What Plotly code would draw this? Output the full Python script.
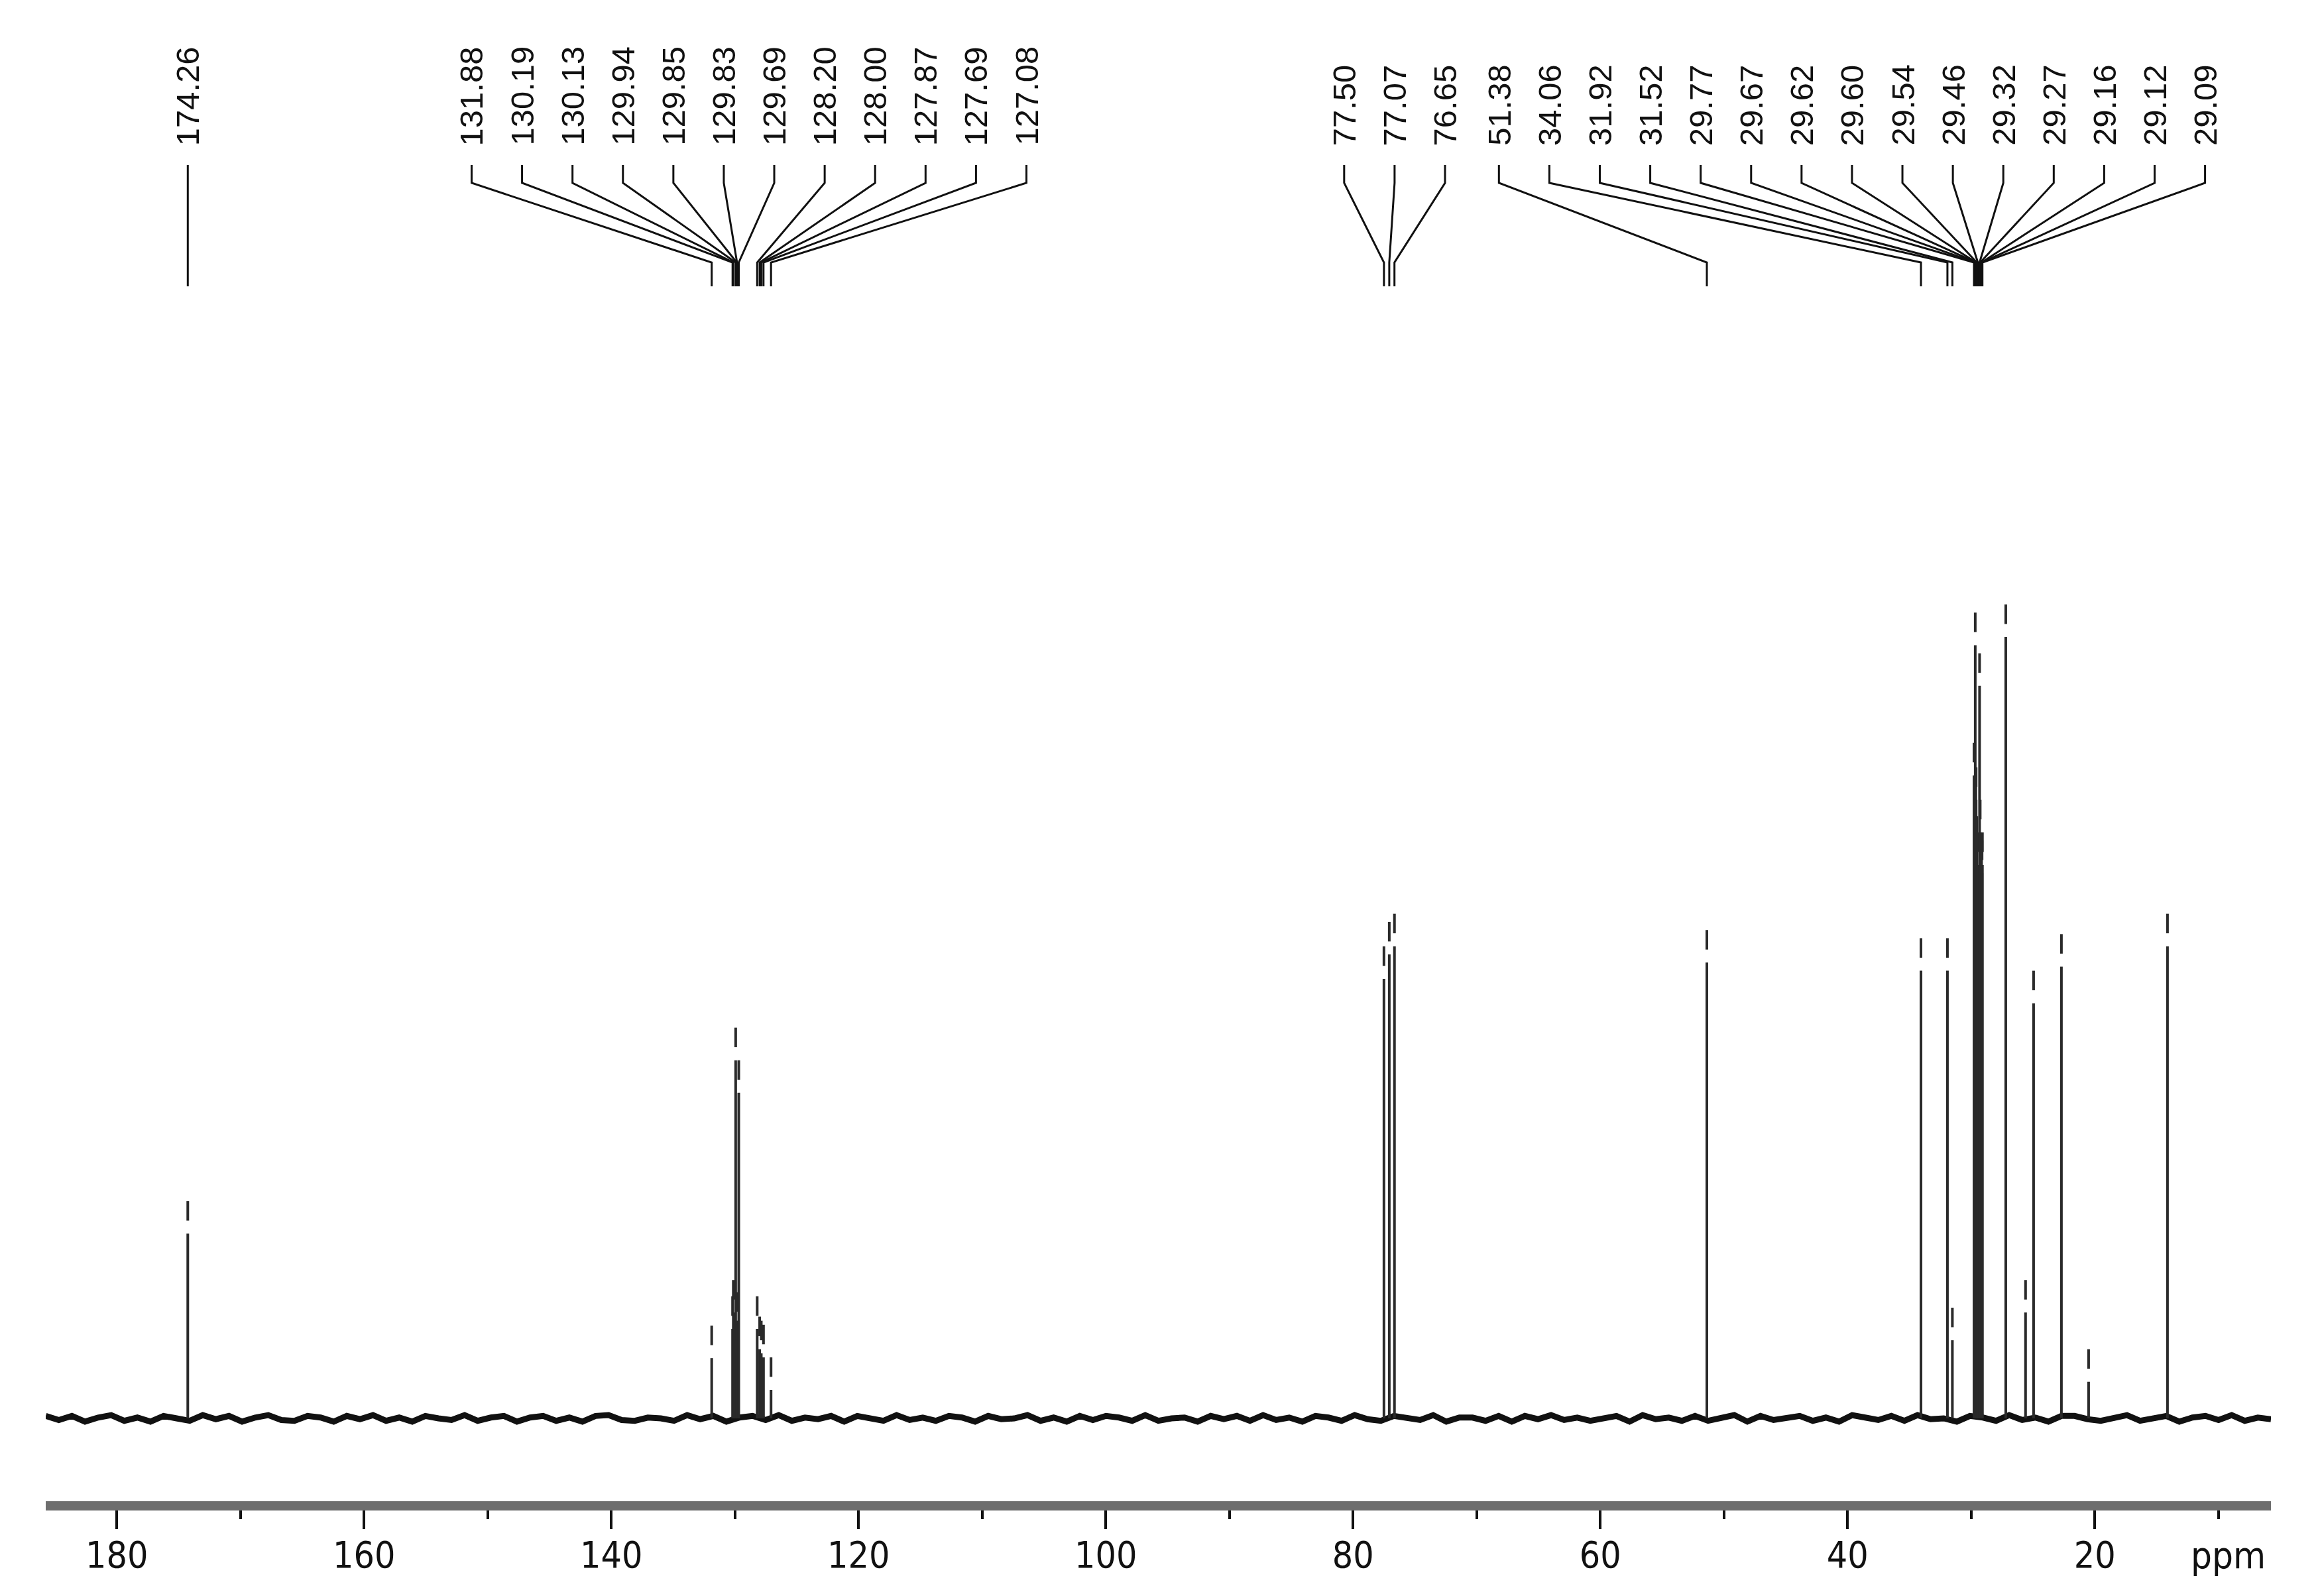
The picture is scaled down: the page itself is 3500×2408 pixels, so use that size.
import numpy as np
import plotly.graph_objects as go

# 13C NMR peak list: shift (ppm) and line height (% of tallest line)
labelled_groups = [
    [174.26],
    [131.88, 130.19, 130.13, 129.94, 129.85, 129.83, 129.69, 128.20, 128.00, 127.87, 127.69, 127.08],
    [77.50, 77.07, 76.65],
    [51.38, 34.06, 31.92, 31.52, 29.77, 29.67, 29.62, 29.60, 29.54, 29.46, 29.32, 29.27, 29.16, 29.12, 29.09],
]
labelled_heights = [
    [26.7],
    [11.4, 15.0, 17.0, 48.0, 12.0, 15.5, 44.0, 15.0, 12.5, 12.0, 11.5, 7.5],
    [58.0, 61.0, 62.0],
    [60.0, 59.0, 59.0, 13.6, 83.0, 99.0, 78.0, 80.0, 74.0, 72.0, 94.0, 76.0, 70.0, 71.0, 72.0],
]
# lines that carry no label in the picture
other_ppm = [27.20, 25.60, 24.95, 22.70, 20.50, 14.12]
other_heights = [100.0, 17.0, 55.0, 59.5, 8.5, 62.0]

# baseline noise (% units), read roughly along the trace from 186 to 6 ppm
noise = [0.3, -0.2, 0.3, -0.4, 0.1, 0.4, -0.3, 0.1, -0.4, 0.3, 0.0, -0.3, 0.4, -0.1, 0.3,
         -0.4, 0.1, 0.4, -0.2, -0.3, 0.3, 0.1, -0.4, 0.3, -0.1, 0.4, -0.3, 0.1, -0.4, 0.3,
         0.0, -0.2, 0.4, -0.3, 0.1, 0.3, -0.4, 0.1, 0.3, -0.3, 0.1, -0.4, 0.3, 0.4, -0.2,
         -0.3, 0.1, 0.0, -0.3, 0.4, -0.1, 0.3, -0.4, 0.1, 0.3, -0.2, 0.4, -0.3, 0.1, -0.1,
         0.3, -0.4, 0.3, 0.0, -0.3, 0.4, -0.2, 0.1, -0.3, 0.3, 0.1, -0.4, 0.3, -0.1, 0.0,
         0.4, -0.3, 0.1, -0.4, 0.3, -0.2, 0.3, 0.1, -0.3, 0.4, -0.3, 0.0, 0.1, -0.4, 0.3,
         -0.1, 0.3, -0.3, 0.4, -0.2, 0.1, -0.4, 0.3, 0.1, -0.3, 0.4, -0.1, -0.3, 0.3, 0.0,
         -0.2, 0.4, -0.4, 0.1, 0.1, -0.3, 0.3, -0.4, 0.3, -0.1, 0.4, -0.2, 0.1, -0.3, 0.0,
         0.3, -0.4, 0.4, -0.1, 0.1, -0.3, 0.3, -0.3, 0.1, 0.4, -0.4, 0.3, -0.2, 0.0, 0.3,
         -0.3, 0.1, -0.4, 0.4, 0.1, -0.2, 0.3, -0.3, 0.4, -0.1, 0.0, -0.4, 0.3, 0.1, -0.3,
         0.4, -0.2, 0.1, -0.4, 0.3, 0.3, -0.1, -0.3, 0.1, 0.4, -0.3, 0.0, 0.3, -0.4, 0.1,
         0.3, -0.2, 0.4, -0.3, 0.1, -0.1]

x_ticks = [20, 40, 60, 80, 100, 120, 140, 160, 180]
x_minor = [10, 30, 50, 70, 90, 110, 130, 150, 170]

# --- layout constants (pixels of the 3500x2408 page) ---
W, H = 3500, 2408
PLOT_BOTTOM = 2257
BASE_PX = 2132          # pixel row of the spectrum baseline
PX_PER_UNIT = 12.28     # pixels per % of intensity
X_RANGE = [185.75, 5.75]
LABEL_STEP = 4.08       # ppm between neighbouring labels
group_label_start = [174.26, 151.3, 80.72, 68.2]


def px_to_y(px):
    return (BASE_PX - px) / PX_PER_UNIT


FONT = "Liberation Sans, Arial, sans-serif"
FONT_AXIS = "DejaVu Sans Condensed, Liberation Sans, sans-serif"

fig = go.Figure()

# baseline
bx = np.linspace(X_RANGE[0], X_RANGE[1], len(noise))
fig.add_trace(go.Scatter(x=bx, y=noise, mode="lines",
                         line=dict(color="#111111", width=9), hoverinfo="skip"))

# peak lines, with the broken tip seen in the scan
all_ppm = [p for g in labelled_groups for p in g] + other_ppm
all_h = [h for g in labelled_heights for h in g] + other_heights
px_, py_ = [], []
for p, h in zip(all_ppm, all_h):
    px_ += [p, p, None, p, p, None]
    py_ += [0, h - 4.0, None, h - 2.4, h, None]
fig.add_trace(go.Scatter(x=px_, y=py_, mode="lines",
                         line=dict(color="#2a2a2a", width=4), hoverinfo="skip"))

# leader lines from labels to peaks
y_top, y_bend1, y_bend2, y_end = px_to_y(241), px_to_y(268), px_to_y(388), px_to_y(424)
lx_, ly_ = [], []
annotations = []
for start, group in zip(group_label_start, labelled_groups):
    for i, p in enumerate(group):
        lab_x = start - i * LABEL_STEP
        lx_ += [lab_x, lab_x, p, p, None]
        ly_ += [y_top, y_bend1, y_bend2, y_end, None]
        annotations.append(dict(
            x=lab_x, y=px_to_y(214), xref="x", yref="y",
            text="%.2f" % p, textangle=-90, showarrow=False,
            xanchor="center", yanchor="bottom",
            font=dict(family=FONT, size=49, color="#111111")))
fig.add_trace(go.Scatter(x=lx_, y=ly_, mode="lines",
                         line=dict(color="#111111", width=3), hoverinfo="skip"))

annotations.append(dict(
    x=9.2, y=(PLOT_BOTTOM - 2338) / PLOT_BOTTOM, xref="x", yref="paper",
    text="ppm", showarrow=False, xanchor="center", yanchor="middle",
    font=dict(family=FONT_AXIS, size=56, color="#111111")))

fig.update_layout(
    width=W, height=H,
    margin=dict(l=61, r=82, t=0, b=H - PLOT_BOTTOM),
    plot_bgcolor="white", paper_bgcolor="white",
    showlegend=False,
    annotations=annotations,
    xaxis=dict(
        range=X_RANGE, tickmode="array", tickvals=x_ticks,
        ticktext=[str(t) for t in x_ticks],
        showgrid=False, zeroline=False,
        showline=True, linecolor="#6e6e6e", linewidth=14,
        ticks="outside", ticklen=28, tickwidth=4, tickcolor="#111111",
        ticklabelstandoff=-8,
        minor=dict(tickvals=x_minor,
                   ticks="outside", ticklen=13, tickwidth=4, tickcolor="#111111"),
        tickfont=dict(family=FONT_AXIS, size=55, color="#111111"),
    ),
    yaxis=dict(visible=False, range=[px_to_y(PLOT_BOTTOM), px_to_y(0)]),
)

fig.write_html("out.html")
